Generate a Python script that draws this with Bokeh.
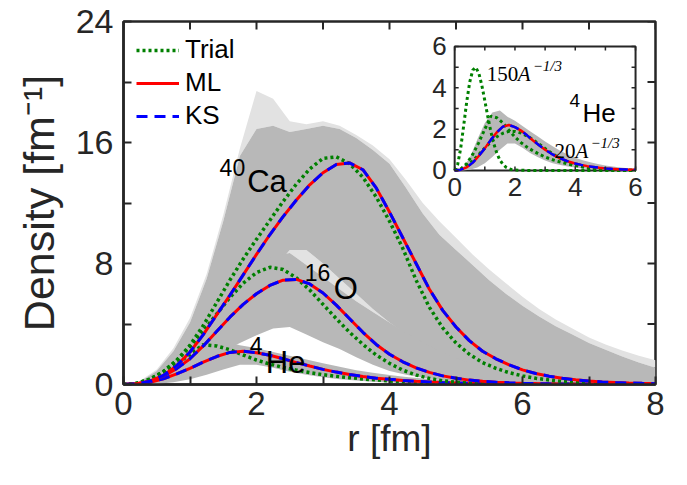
from bokeh.plotting import figure
from bokeh.models import Range1d, FixedTicker, Legend, LegendItem
from bokeh.core.properties import value
from bokeh.embed import file_html
from bokeh.resources import INLINE

# ---------------- data ----------------
r = [round(0.2 * i, 1) for i in range(41)]          # r grid, fm (0 .. 8)

he_ks = [0.0, 0.04, 0.15, 0.38, 0.7, 1.07, 1.48, 1.85, 2.12, 2.2, 2.1, 1.93, 1.7, 1.45, 1.22, 1.0,
         0.82, 0.66, 0.53, 0.42, 0.34, 0.27, 0.21, 0.17, 0.13, 0.1, 0.08, 0.065, 0.05, 0.04, 0.03,
         0.024, 0.019, 0.015, 0.012, 0.009, 0.007, 0.005, 0.004, 0.003, 0.002]
he_ml = [0.0, 0.04, 0.15, 0.38, 0.7, 1.07, 1.48, 1.85, 2.12, 2.2, 2.1, 1.93, 1.7, 1.45, 1.22, 1.0,
         0.82, 0.66, 0.53, 0.42, 0.34, 0.27, 0.21, 0.17, 0.13, 0.1, 0.08, 0.065, 0.05, 0.04, 0.03,
         0.024, 0.019, 0.015, 0.012, 0.009, 0.007, 0.005, 0.004, 0.003, 0.002]
he_trial = [0.0, 0.07, 0.33, 0.78, 1.35, 2.0, 2.63, 2.55, 2.3, 1.95, 1.62, 1.35, 1.13, 0.95, 0.79,
            0.65, 0.54, 0.45, 0.37, 0.3, 0.235, 0.185, 0.145, 0.11, 0.085, 0.065, 0.05, 0.038,
            0.029, 0.022, 0.017, 0.013, 0.01, 0.008, 0.006, 0.004, 0.003, 0.002, 0.002, 0.001, 0.001]

o_ks = [0.0, 0.05, 0.22, 0.55, 1.05, 1.7, 2.55, 3.5, 4.45, 5.3, 6.0, 6.55, 6.9, 6.95, 6.65, 6.05,
        5.25, 4.35, 3.45, 2.65, 2.0, 1.5, 1.1, 0.8, 0.57, 0.41, 0.29, 0.21, 0.15, 0.11, 0.08,
        0.058, 0.042, 0.03, 0.022, 0.016, 0.012, 0.009, 0.006, 0.005, 0.004]
o_ml = [0.0, 0.05, 0.22, 0.55, 1.05, 1.7, 2.55, 3.5, 4.45, 5.3, 6.0, 6.55, 6.9, 6.95, 6.65, 6.05,
        5.25, 4.35, 3.45, 2.65, 2.0, 1.5, 1.1, 0.8, 0.57, 0.41, 0.29, 0.21, 0.15, 0.11, 0.08,
        0.058, 0.042, 0.03, 0.022, 0.016, 0.012, 0.009, 0.006, 0.005, 0.004]
o_trial = [0.0, 0.08, 0.35, 0.85, 1.6, 2.5, 3.55, 4.65, 5.75, 6.7, 7.4, 7.75, 7.6, 7.05, 6.25, 5.3,
           4.35, 3.45, 2.65, 1.95, 1.4, 0.95, 0.63, 0.4, 0.25, 0.15, 0.09, 0.055, 0.033, 0.02,
           0.012, 0.007, 0.004, 0.002, 0.001, 0.001, 0.0, 0.0, 0.0, 0.0, 0.0]

ca_ks = [0.0, 0.05, 0.22, 0.6, 1.25, 2.15, 3.3, 4.6, 5.9, 7.25, 8.6, 9.9, 11.1, 12.2, 13.2, 14.0,
         14.55, 14.65, 14.2, 13.0, 11.4, 9.7, 8.0, 6.3, 4.9, 3.8, 2.9, 2.2, 1.7, 1.3, 0.97, 0.73,
         0.55, 0.41, 0.31, 0.23, 0.17, 0.13, 0.1, 0.075, 0.055]
ca_ml = [0.0, 0.05, 0.22, 0.6, 1.25, 2.15, 3.3, 4.6, 5.9, 7.25, 8.6, 9.9, 11.1, 12.2, 13.2, 14.0,
         14.55, 14.65, 14.2, 13.0, 11.4, 9.7, 8.0, 6.3, 4.9, 3.8, 2.9, 2.2, 1.7, 1.3, 0.97, 0.73,
         0.55, 0.41, 0.31, 0.23, 0.17, 0.13, 0.1, 0.075, 0.055]
ca_trial = [0.0, 0.08, 0.35, 0.85, 1.6, 2.6, 3.9, 5.4, 6.9, 8.3, 9.6, 10.85, 12.1, 13.25, 14.25,
            14.95, 15.05, 14.6, 13.7, 12.4, 10.8, 9.0, 6.9, 5.1, 3.75, 2.75, 2.0, 1.45, 1.07, 0.78,
            0.57, 0.41, 0.3, 0.21, 0.15, 0.105, 0.075, 0.053, 0.037, 0.026, 0.018]

# envelopes of the grey family of training densities
env_x = [0.25 * i for i in range(33)]               # 0 .. 8
ca_max = [0.0, 0.25, 1.0, 2.4, 4.4, 7.3, 11.2, 15.6, 19.4, 18.9, 17.4, 17.2, 17.4, 17.1, 16.5, 15.8,
          14.9, 13.5, 12.0, 10.8, 9.7, 8.6, 7.6, 6.7, 5.8, 5.0, 4.3, 3.7, 3.1, 2.65, 2.25, 1.9, 1.6]
ca_hi = [0.0, 0.2, 0.9, 2.2, 4.1, 7.0, 10.8, 15.1, 16.9, 17.1, 16.7, 16.9, 17.1, 16.9, 16.3, 15.5,
         14.6, 13.0, 11.3, 9.9, 8.9, 7.9, 6.9, 6.0, 5.2, 4.5, 3.85, 3.3, 2.75, 2.3, 1.85, 1.45, 1.1]
ca_lo = [0.0, 0.02, 0.2, 0.6, 1.2, 2.2, 3.4, 4.8, 6.2, 7.6, 8.9, 8.9, 8.0, 7.0, 6.0, 5.0, 4.1, 3.3,
         2.6, 2.0, 1.5, 1.15, 0.85, 0.65, 0.48, 0.36, 0.27, 0.2, 0.15, 0.11, 0.08, 0.06, 0.045]
o_hi = [0.0, 0.1, 0.5, 1.3, 2.4, 3.7, 5.1, 6.5, 7.7, 8.5, 8.7, 7.9, 7.1, 6.3, 5.5, 4.8, 4.1, 3.4,
        2.8, 2.2, 1.75, 1.35, 1.05, 0.8, 0.6, 0.45, 0.33, 0.25, 0.18, 0.13, 0.1, 0.07, 0.05]
o_lo = [0.0, 0.02, 0.15, 0.5, 1.0, 1.6, 2.2, 2.75, 3.25, 3.7, 3.8, 3.3, 2.8, 2.35, 1.8, 1.3, 0.9,
        0.65, 0.45, 0.32, 0.22, 0.16, 0.11, 0.08, 0.06, 0.04, 0.03, 0.02, 0.015, 0.01, 0.007, 0.005, 0.003]
he_hi = [0.0, 0.1, 0.6, 1.5, 2.3, 2.8, 2.9, 2.6, 2.4, 2.15, 1.9, 1.65, 1.4, 1.17, 0.95, 0.77, 0.62,
         0.5, 0.4, 0.31, 0.24, 0.19, 0.15, 0.11, 0.09, 0.07, 0.055, 0.04, 0.03, 0.025, 0.02, 0.015, 0.01]
he_lo = [0.0, 0.0, 0.03, 0.15, 0.35, 0.65, 1.0, 1.3, 1.3, 1.1, 0.85, 0.65, 0.48, 0.35, 0.26, 0.19,
         0.14, 0.1, 0.07, 0.05, 0.035, 0.025, 0.017, 0.012, 0.008, 0.005, 0.003, 0.002, 0.001, 0.0,
         0.0, 0.0, 0.0]

# inset: 4He with two other trial widths
r150 = [0.0, 0.1, 0.2, 0.3, 0.4, 0.5, 0.6, 0.7, 0.8, 0.9, 1.0, 1.1, 1.2, 1.3, 1.4, 1.5, 1.6, 1.7,
        1.8, 1.9, 2.0, 2.5, 3.0, 4.0, 5.0, 6.0]
trial_150 = [0.0, 0.29, 1.08, 2.18, 3.33, 4.28, 4.86, 4.99, 4.71, 4.13, 3.38, 2.6, 1.88, 1.29, 0.83,
             0.51, 0.3, 0.16, 0.09, 0.04, 0.02, 0.0, 0.0, 0.0, 0.0, 0.0]
r20 = [round(0.2 * i, 1) for i in range(31)]        # 0 .. 6
trial_20 = [0.0, 0.06, 0.22, 0.47, 0.77, 1.09, 1.38, 1.63, 1.8, 1.89, 1.89, 1.81, 1.67, 1.49, 1.28,
            1.06, 0.86, 0.67, 0.51, 0.38, 0.27, 0.19, 0.13, 0.09, 0.06, 0.035, 0.022, 0.013, 0.008,
            0.004, 0.003]

x_major, x_minor = [0, 2, 4, 6, 8], [1, 3, 5, 7]
y_major, y_minor = [0, 8, 16, 24], [4, 12, 20]
x_all_ticks = [0, 1, 2, 3, 4, 5, 6, 7, 8]
y_all_ticks = [0, 4, 8, 12, 16, 20, 24]
inset_ticks = [0, 1, 2, 3, 4, 5, 6]
inset_labels = [0, 2, 4, 6]

sym_text, sym_x, sym_y = ["Ca", "O", "He"], [1.86, 3.16, 2.14], [13.4, 6.35, 1.45]
mass_text, mass_x, mass_y = ["40", "16", "4"], [1.83, 3.11, 2.09], [14.35, 7.4, 2.6]

# ---------------- style ----------------
GRAY, LIGHT = "#b8b8b8", "#e2e2e2"
GREEN, RED, BLUE, AX = "#008000", "#ff0000", "#0000ff", "#262626"
FONT, SERIF = "Liberation Sans", "Liberation Serif"

W, H = 671, 469
BL, BT, FW, FH = 123, 21, 532, 363
BR, BB = W - BL - FW, H - BT - FH
PXX, PXY = FW / 8.0, FH / 24.0      # pixels per main data unit
TICK = 8

p = figure(width=W, height=H, x_range=Range1d(0, 8), y_range=Range1d(0, 24),
           output_backend="svg", toolbar_location=None,
           min_border_left=BL, min_border_right=BR, min_border_top=BT, min_border_bottom=BB)
p.grid.visible = False
p.outline_line_color = AX
p.outline_line_width = 2.5


def style_axis(ax, ticker):
    ax.ticker = ticker
    ax.axis_line_color = AX
    ax.axis_line_width = 2.5
    ax.major_tick_line_color = AX
    ax.minor_tick_line_color = AX
    ax.major_tick_line_width = 2
    ax.minor_tick_line_width = 2
    ax.major_tick_in, ax.major_tick_out = TICK, 0
    ax.minor_tick_in, ax.minor_tick_out = TICK, 0
    ax.major_label_text_font = FONT
    ax.major_label_text_color = AX
    ax.axis_label_text_font = FONT
    ax.axis_label_text_font_style = "normal"
    ax.axis_label_text_color = AX


style_axis(p.xaxis[0], FixedTicker(ticks=x_major, minor_ticks=x_minor))
style_axis(p.yaxis[0], FixedTicker(ticks=y_major, minor_ticks=y_minor))
p.xaxis.axis_label = "r [fm]"
p.yaxis.axis_label = "Density [fm\u207b\u00b9]"
p.xaxis.major_label_text_font_size = "33px"
p.yaxis.major_label_text_font_size = "34px"
p.xaxis.axis_label_text_font_size = "37px"
p.yaxis.axis_label_text_font_size = "43px"
p.xaxis.major_label_standoff = 7
p.xaxis.axis_label_standoff = 0
p.yaxis.major_label_standoff = 10
p.yaxis.axis_label_standoff = 10

# ticks of the top and right sides of the box
p.segment(x0=x_all_ticks, y0=[24] * 9, x1=x_all_ticks, y1=[24 - TICK / PXY] * 9,
          line_color=AX, line_width=2)
p.segment(x0=[8] * 7, y0=y_all_ticks, x1=[8 - TICK / PXX] * 7, y1=y_all_ticks,
          line_color=AX, line_width=2)

# grey families
p.varea(x=env_x, y1=ca_hi, y2=ca_max, fill_color=LIGHT)
p.varea(x=env_x, y1=o_hi, y2=ca_lo, fill_color=LIGHT)
p.varea(x=env_x, y1=ca_lo, y2=ca_hi, fill_color=GRAY)
p.varea(x=env_x, y1=o_lo, y2=o_hi, fill_color=GRAY)
p.varea(x=env_x, y1=he_lo, y2=he_hi, fill_color=GRAY)

TRIAL = dict(line_color=GREEN, line_width=3.5, line_dash="3 3")
ML = dict(line_color=RED, line_width=3)
KS = dict(line_color=BLUE, line_width=3, line_dash="11 7")

for tr, ml, ks in ((he_trial, he_ml, he_ks), (o_trial, o_ml, o_ks), (ca_trial, ca_ml, ca_ks)):
    r_trial = p.line(r, tr, **TRIAL)
    r_ml = p.line(r, ml, **ML)
    r_ks = p.line(r, ks, **KS)

p.text(x=sym_x, y=sym_y, text=sym_text, text_font=value(FONT), text_font_size="31px",
       text_color="black", text_baseline="alphabetic", text_align="left")
p.text(x=mass_x, y=mass_y, text=mass_text, text_font=value(FONT), text_font_size="23px",
       text_color="black", text_baseline="alphabetic", text_align="right")

legend = Legend(items=[LegendItem(label="Trial", renderers=[r_trial]),
                       LegendItem(label="ML", renderers=[r_ml]),
                       LegendItem(label="KS", renderers=[r_ks])],
                location="top_left")
legend.border_line_color = None
legend.background_fill_alpha = 0
legend.label_text_font = FONT
legend.label_text_font_size = "26px"
legend.label_text_color = "black"
legend.glyph_width = 43
legend.glyph_height = 30
legend.label_height = 30
legend.spacing = 2
legend.padding = 0
legend.margin = 13
legend.label_standoff = 6
p.add_layout(legend)

# ---------------- inset (own scales mapped onto a box of the main frame) ----------------
IN_X0, IN_X1, IN_Y0, IN_Y1 = 4.98, 7.70, 14.15, 22.35   # inset box in main data units
SX, SY = (IN_X1 - IN_X0) / 6.0, (IN_Y1 - IN_Y0) / 6.0
p.extra_x_ranges = {"ix": Range1d(-IN_X0 / SX, (8 - IN_X0) / SX)}
p.extra_y_ranges = {"iy": Range1d(-IN_Y0 / SY, (24 - IN_Y0) / SY)}
PX_X = PXX * SX        # pixels per inset unit
PX_Y = PXY * SY
IR = dict(x_range_name="ix", y_range_name="iy")

p.quad(left=[0], right=[6], bottom=[0], top=[6], fill_color="white", line_color=AX,
       line_width=2, **IR)
n6 = 25   # envelope points up to r = 6
p.varea(x=env_x[:n6], y1=he_lo[:n6], y2=he_hi[:n6], fill_color=GRAY, **IR)
p.line(r150, trial_150, line_color=GREEN, line_width=3, line_dash="3 3", **IR)
p.line(r20, trial_20, line_color=GREEN, line_width=3, line_dash="3 3", **IR)
p.line(r[:31], he_trial[:31], line_color=GREEN, line_width=3, line_dash="3 3", **IR)
p.line(r[:31], he_ml[:31], line_color=RED, line_width=2.5, **IR)
p.line(r[:31], he_ks[:31], line_color=BLUE, line_width=2.5, line_dash="9 6", **IR)

tl_x, tl_y = 4.0 / PX_X, 4.0 / PX_Y
t = inset_ticks
p.segment(x0=t, y0=[0] * 7, x1=t, y1=[tl_y] * 7, line_color=AX, line_width=1.5, **IR)
p.segment(x0=t, y0=[6] * 7, x1=t, y1=[6 - tl_y] * 7, line_color=AX, line_width=1.5, **IR)
p.segment(x0=[0] * 7, y0=t, x1=[tl_x] * 7, y1=t, line_color=AX, line_width=1.5, **IR)
p.segment(x0=[6] * 7, y0=t, x1=[6 - tl_x] * 7, y1=t, line_color=AX, line_width=1.5, **IR)
lab = [str(v) for v in inset_labels]
p.text(x=inset_labels, y=[-8.0 / PX_Y] * 4, text=lab, text_font=value(FONT), text_font_size="26px",
       text_color=AX, text_align="center", text_baseline="top", **IR)
p.text(x=[-8.0 / PX_X] * 4, y=inset_labels, text=lab, text_font=value(FONT), text_font_size="26px",
       text_color=AX, text_align="right", text_baseline="middle", **IR)

p.text(x=[4.24], y=[2.76], text=["He"], text_font=value(FONT), text_font_size="26px",
       text_color="black", text_baseline="alphabetic", **IR)
p.text(x=[4.16], y=[3.39], text=["4"], text_font=value(FONT), text_font_size="19px",
       text_color="black", text_baseline="alphabetic", text_align="right", **IR)

# 150 A^{-1/3} and 20 A^{-1/3}
lab_x, lab_y, lab_num = [1.06, 3.31], [4.69, 0.95], ["150", "20"]
num_w = [31, 21]
p.text(x=lab_x, y=lab_y, text=lab_num, text_font=value(SERIF), text_font_size="21px",
       text_color="black", text_baseline="alphabetic", **IR)
p.text(x=[lab_x[i] + num_w[i] / PX_X for i in range(2)], y=lab_y, text=["A", "A"],
       text_font=value(SERIF), text_font_style="italic", text_font_size="21px",
       text_color="black", text_baseline="alphabetic", **IR)
p.text(x=[lab_x[i] + (num_w[i] + 15) / PX_X for i in range(2)],
       y=[v + 8.0 / PX_Y for v in lab_y], text=["\u22121/3", "\u22121/3"],
       text_font=value(SERIF), text_font_style="italic", text_font_size="15px",
       text_color="black", text_baseline="alphabetic", **IR)

open("out.html", "w").write(file_html(p, INLINE))
